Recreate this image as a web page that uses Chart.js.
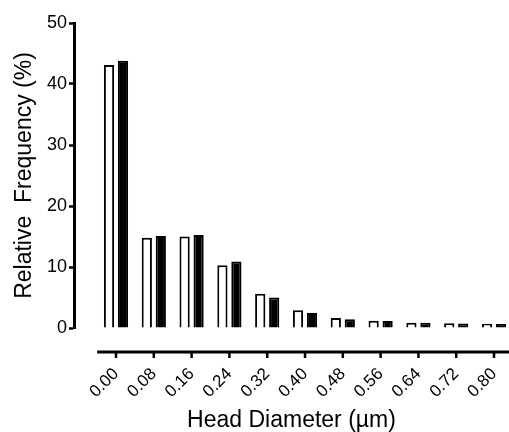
<!DOCTYPE html>
<html>
<head>
<meta charset="utf-8">
<script src="https://cdn.jsdelivr.net/npm/chart.js@4/dist/chart.umd.min.js"></script>
<style>
  html, body { margin: 0; padding: 0; background: #fff; overflow: hidden; }
  #wrap { position: relative; width: 509px; height: 432px; }
</style>
</head>
<body>
<div id="wrap"><canvas id="c"></canvas></div>
<script>
// ---- data ----
const categories = ['0.00','0.08','0.16','0.24','0.32','0.40','0.48','0.56','0.64','0.72','0.80'];
const whiteSeries = [43.1, 14.8, 15.0, 10.3, 5.6, 2.9, 1.65, 1.2, 0.87, 0.77, 0.7];
const blackSeries = [43.8, 15.1, 15.25, 10.9, 5.0, 2.45, 1.45, 1.15, 0.85, 0.75, 0.65];
const yTickValues = [0, 10, 20, 30, 40, 50];
const xTitle = 'Head Diameter (\u00b5m)';
const yTitle = 'Relative  Frequency (%)';

const xValues = categories.map(parseFloat);
const FONT = "'Liberation Sans', Arial, Helvetica, sans-serif";
Chart.defaults.font.family = FONT;
Chart.defaults.color = '#000';

// draws the offset x-axis line and its tick marks (Prism-style detached axis)
const offsetXAxis = {
  id: 'offsetXAxis',
  afterDraw(chart) {
    const xs = chart.scales.x;
    const area = chart.chartArea;
    const ctx = chart.ctx;
    const gap = 24, tickLen = 6;
    const y = area.bottom + gap;
    const step = xValues[1] - xValues[0];
    const x0 = xs.getPixelForValue(xValues[0] - step / 2);
    ctx.save();
    ctx.strokeStyle = '#000';
    ctx.lineWidth = 3;
    ctx.beginPath();
    ctx.moveTo(x0, y);
    ctx.lineTo(chart.width, y);
    ctx.stroke();
    ctx.lineWidth = 2.5;
    xs.ticks.forEach(t => {
      const px = xs.getPixelForValue(t.value);
      ctx.beginPath();
      ctx.moveTo(px, y);
      ctx.lineTo(px, y + tickLen);
      ctx.stroke();
    });
    ctx.restore();
  }
};

new Chart(document.getElementById('c'), {
  type: 'bar',
  data: {
    datasets: [
      {
        label: 'A',
        data: xValues.map((x, i) => ({ x, y: whiteSeries[i] })),
        backgroundColor: '#ffffff',
        borderColor: '#000000',
        borderWidth: 2,
        categoryPercentage: 0.74,
        barPercentage: 0.73
      },
      {
        label: 'B',
        data: xValues.map((x, i) => ({ x, y: blackSeries[i] })),
        backgroundColor: '#000000',
        borderColor: '#000000',
        borderWidth: 2,
        categoryPercentage: 0.74,
        barPercentage: 0.73
      }
    ]
  },
  options: {
    responsive: true,
    maintainAspectRatio: false,
    animation: false,
    layout: { padding: { top: 23, right: 0, bottom: 0, left: 0 } },
    plugins: { legend: { display: false }, tooltip: { enabled: false } },
    scales: {
      x: {
        type: 'linear',
        offset: false,
        min: -0.0889,
        max: 0.8317,
        afterBuildTicks: s => { s.ticks = xValues.map(v => ({ value: v })); },
        afterFit: s => { s.height = 104; s.paddingLeft = 0; s.paddingRight = 0; },
        grid: { display: false, offset: false, drawTicks: true, tickLength: 36 },
        border: { display: false },
        ticks: {
          autoSkip: false,
          minRotation: 45,
          maxRotation: 45,
          padding: 0,
          font: { size: 17 },
          color: '#000',
          callback: (v, i) => categories[i]
        },
        title: {
          display: true,
          text: xTitle,
          color: '#000',
          font: { size: 23, lineHeight: 0.95 },
          padding: { top: 0, bottom: 0 }
        }
      },
      y: {
        min: 0,
        max: 50,
        afterBuildTicks: s => { s.ticks = yTickValues.map(v => ({ value: v })); },
        afterFit: s => { s.width = 74; },
        grid: {
          drawOnChartArea: false,
          drawTicks: true,
          tickLength: 5,
          tickWidth: 2.5,
          tickColor: '#000'
        },
        border: { display: true, width: 3, color: '#000' },
        ticks: { padding: 2, font: { size: 18 }, color: '#000' },
        title: {
          display: true,
          text: yTitle,
          color: '#000',
          font: { size: 23 },
          padding: { top: 11, bottom: 0 }
        }
      }
    }
  },
  plugins: [offsetXAxis]
});
</script>
</body>
</html>
